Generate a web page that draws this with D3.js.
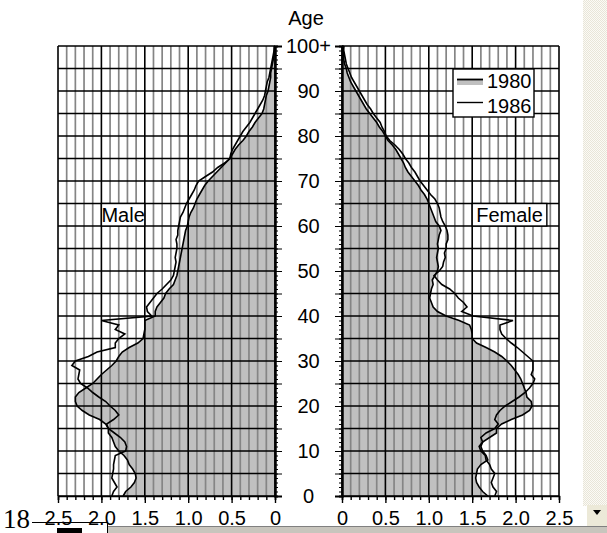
<!DOCTYPE html>
<html><head><meta charset="utf-8">
<script src="https://cdn.jsdelivr.net/npm/d3@7"></script>
<style>html,body{margin:0;padding:0;background:#fff;}svg{display:block;}</style>
</head><body>
<script>
// ---------- data ----------
const ages = d3.range(0, 101);
const ageTicks = [0,10,20,30,40,50,60,70,80,90,100];
const ageTickLabels = ["0","10","20","30","40","50","60","70","80","90","100+"];
const valueTicks = [0,0.5,1.0,1.5,2.0,2.5];
const valueTickLabels = ["0","0.5","1.0","1.5","2.0","2.5"];
const seriesNames = ["1980","1986"];
const sideLabels = ["Male","Female"];

const male1980 = [1.75,1.72,1.66,1.62,1.60,1.61,1.64,1.68,1.70,1.74,
1.80,1.84,1.86,1.88,1.92,1.92,1.95,2.02,2.14,2.22,
2.28,2.30,2.30,2.26,2.18,2.10,2.05,2.00,1.94,1.88,
1.83,1.80,1.76,1.68,1.58,1.52,1.51,1.50,1.50,1.50,
1.38,1.38,1.36,1.32,1.28,1.26,1.22,1.17,1.15,1.13,
1.12,1.11,1.10,1.09,1.08,1.07,1.06,1.05,1.04,1.03,
1.01,1.00,0.99,0.97,0.94,0.92,0.90,0.87,0.84,0.81,
0.77,0.72,0.67,0.62,0.57,0.52,0.49,0.46,0.42,0.37,
0.33,0.30,0.26,0.23,0.19,0.15,0.13,0.12,0.11,0.10,
0.08,0.07,0.06,0.05,0.05,0.04,0.03,0.02,0.01,0.01,0.00];

const male1986 = [1.88,1.86,1.82,1.85,1.88,1.87,1.86,1.86,1.85,1.84,
1.72,1.71,1.73,1.78,1.85,1.92,1.94,1.86,1.80,1.84,
1.90,1.95,2.03,2.10,2.16,2.24,2.27,2.26,2.25,2.34,
2.30,2.15,2.05,1.84,1.84,1.80,1.73,1.84,1.80,2.00,
1.42,1.47,1.48,1.44,1.40,1.36,1.30,1.25,1.20,1.17,
1.16,1.15,1.14,1.15,1.14,1.13,1.13,1.14,1.12,1.12,
1.11,1.10,1.09,1.06,1.04,1.02,0.99,0.96,0.93,0.91,
0.88,0.80,0.72,0.66,0.58,0.52,0.51,0.49,0.46,0.43,
0.40,0.37,0.33,0.29,0.26,0.23,0.20,0.17,0.14,0.12,
0.11,0.10,0.09,0.07,0.06,0.05,0.04,0.03,0.02,0.01,0.01];

const female1980 = [1.68,1.62,1.58,1.55,1.54,1.55,1.56,1.60,1.68,1.66,
1.62,1.60,1.62,1.70,1.78,1.78,1.84,1.95,2.08,2.16,
2.19,2.18,2.13,2.12,2.10,2.08,2.06,2.03,1.99,1.95,
1.90,1.84,1.76,1.66,1.55,1.50,1.50,1.49,1.47,1.35,
1.20,1.10,1.05,1.03,1.01,1.02,1.03,1.05,1.04,1.07,
1.10,1.11,1.10,1.09,1.10,1.11,1.10,1.11,1.12,1.14,
1.12,1.08,1.06,1.04,1.02,1.00,0.98,0.95,0.91,0.88,
0.84,0.80,0.76,0.73,0.71,0.68,0.65,0.62,0.58,0.53,
0.50,0.47,0.43,0.40,0.36,0.32,0.28,0.25,0.22,0.19,
0.16,0.13,0.10,0.08,0.06,0.05,0.03,0.02,0.02,0.01,0.02];

const female1986 = [1.76,1.78,1.74,1.72,1.74,1.76,1.72,1.70,1.66,1.65,
1.60,1.58,1.62,1.60,1.66,1.76,1.80,1.76,1.78,1.82,
1.88,1.96,2.04,2.11,2.16,2.20,2.22,2.18,2.20,2.20,
2.20,2.14,2.08,2.02,1.95,1.89,1.84,1.82,1.82,1.97,
1.51,1.38,1.44,1.40,1.34,1.30,1.24,1.15,1.10,1.06,
1.12,1.16,1.17,1.19,1.18,1.20,1.20,1.22,1.22,1.21,
1.19,1.16,1.14,1.13,1.12,1.10,1.07,1.02,0.98,0.94,
0.90,0.87,0.84,0.80,0.77,0.73,0.70,0.66,0.61,0.55,
0.51,0.49,0.46,0.44,0.40,0.36,0.33,0.29,0.26,0.23,
0.20,0.17,0.14,0.11,0.09,0.07,0.05,0.04,0.03,0.02,0.02];

// ---------- drawing ----------
const W = 607, H = 533;
const FONT = "'Liberation Sans', Arial, sans-serif";
const svg = d3.select("body").append("svg").attr("width", W).attr("height", H)
  .style("font-family", FONT);

const y = d3.scaleLinear().domain([0,100]).range([496,46]);
const xM = d3.scaleLinear().domain([0,2.5]).range([275,58]);
const xF = d3.scaleLinear().domain([0,2.5]).range([342,559]);

function panel(x, d80, d86, label, labelBox) {
  const g = svg.append("g");
  const pts80 = ages.map((a,i)=>[a, d80[i]]);
  const pts86 = ages.map((a,i)=>[a, d86[i]]);
  // 1980 fill
  g.append("path").datum(pts80)
    .attr("d", d3.area().x0(()=>x(0)).x1(d=>x(d[1])).y(d=>y(d[0])))
    .attr("fill", "#c0c0c0");
  // minor vertical grid
  const minor = d3.range(0, 26).map(i => i/10).filter(v => Math.abs(v*2 - Math.round(v*2)) > 1e-6);
  g.selectAll(".vmin").data(minor).join("line")
    .attr("x1", d=>x(d)).attr("x2", d=>x(d)).attr("y1", y(0)).attr("y2", y(100))
    .attr("stroke", "#858585").attr("stroke-width", 1.7);
  // horizontal grid every 5 years
  g.selectAll(".h").data(d3.range(0,101,5)).join("line")
    .attr("x1", x(0)).attr("x2", x(2.5)).attr("y1", d=>y(d)).attr("y2", d=>y(d))
    .attr("stroke", "#000").attr("stroke-width", 1.6);
  // major vertical grid
  g.selectAll(".vmaj").data(valueTicks).join("line")
    .attr("x1", d=>x(d)).attr("x2", d=>x(d)).attr("y1", y(0)).attr("y2", y(100))
    .attr("stroke", "#000").attr("stroke-width", 1.6);
  // side label box
  const bx0 = x(labelBox[0]), bx1 = x(labelBox[1]);
  const lx = Math.min(bx0,bx1), lw = Math.abs(bx1-bx0);
  g.append("rect").attr("x", lx).attr("y", y(65)).attr("width", lw).attr("height", y(60)-y(65))
    .attr("fill", "#fff").attr("stroke", "#000").attr("stroke-width", 1.4);
  g.append("text").attr("x", lx + lw/2).attr("y", y(62.5)).attr("dy", "0.36em")
    .attr("text-anchor", "middle").attr("font-size", 20).text(label);
  // lines
  const line = d3.line().x(d=>x(d[1])).y(d=>y(d[0]));
  g.append("path").datum(pts80).attr("d", line).attr("fill","none").attr("stroke","#000").attr("stroke-width",1.6);
  g.append("path").datum(pts86).attr("d", line).attr("fill","none").attr("stroke","#000").attr("stroke-width",1.6);
  // x axis: minor ticks
  const ax = g.append("g").attr("transform", `translate(0,${y(0)})`);
  ax.call(d3.axisBottom(x).tickValues(d3.range(0,26).map(i=>i/10)).tickSize(4).tickFormat(""));
  const ax2 = g.append("g").attr("transform", `translate(0,${y(0)})`);
  ax2.call(d3.axisBottom(x).tickValues(valueTicks).tickSize(7).tickPadding(8)
      .tickFormat((d,i)=>valueTickLabels[valueTicks.indexOf(d)]));
  [ax, ax2].forEach(a => {
    a.select(".domain").attr("stroke","#000").attr("stroke-width",1.4);
    a.selectAll(".tick line").attr("stroke","#000").attr("stroke-width",1.4);
  });
  ax2.select(".domain").remove();
  ax2.selectAll("text").attr("font-size", 20).attr("font-family", FONT).attr("fill","#000");
  return g;
}

panel(xM, male1980, male1986, sideLabels[0], [2.0, 1.5]);
panel(xF, female1980, female1986, sideLabels[1], [1.5, 2.36]);

// central age axis ticks
const yAxL = svg.append("g").attr("transform", `translate(${xM(0)},0)`)
  .call(d3.axisRight(y).tickValues(d3.range(0,101)).tickSize(3).tickFormat(""));
const yAxL2 = svg.append("g").attr("transform", `translate(${xM(0)},0)`)
  .call(d3.axisRight(y).tickValues(d3.range(0,101,5)).tickSize(7).tickFormat(""));
const yAxR = svg.append("g").attr("transform", `translate(${xF(0)},0)`)
  .call(d3.axisLeft(y).tickValues(d3.range(0,101)).tickSize(3).tickFormat(""));
const yAxR2 = svg.append("g").attr("transform", `translate(${xF(0)},0)`)
  .call(d3.axisLeft(y).tickValues(d3.range(0,101,5)).tickSize(7).tickFormat(""));
[yAxL,yAxL2,yAxR,yAxR2].forEach(a=>{
  a.select(".domain").attr("stroke","#000").attr("stroke-width",2);
  a.selectAll(".tick line").attr("stroke","#000").attr("stroke-width",1);
});

svg.append("g").selectAll("text").data(ageTicks).join("text")
  .attr("x", 308.5).attr("y", d=>y(d)).attr("dy","0.36em").attr("text-anchor","middle")
  .attr("font-size", 20).text((d,i)=>ageTickLabels[i]);
svg.append("text").attr("x", 306).attr("y", 25).attr("text-anchor","middle")
  .attr("font-size", 20).text("Age");

// legend
const lg = svg.append("g");
lg.append("rect").attr("x",453).attr("y",69).attr("width",81).attr("height",48)
  .attr("fill","#fff").attr("stroke","#000").attr("stroke-width",1.4);
lg.append("rect").attr("x",457).attr("y",79).attr("width",26).attr("height",6).attr("fill","#c0c0c0");
lg.append("line").attr("x1",457).attr("x2",483).attr("y1",79.5).attr("y2",79.5).attr("stroke","#000").attr("stroke-width",1.8);
lg.append("line").attr("x1",457).attr("x2",483).attr("y1",102.5).attr("y2",102.5).attr("stroke","#000").attr("stroke-width",1.4);
lg.selectAll("text").data(seriesNames).join("text")
  .attr("x",487).attr("y",(d,i)=>88+i*24.5).attr("font-size",20).text(d=>d);

// window chrome around the picture
const defs = svg.append("defs");
const pat = defs.append("pattern").attr("id","dither").attr("width",2).attr("height",2).attr("patternUnits","userSpaceOnUse");
pat.append("rect").attr("width",2).attr("height",2).attr("fill","#fbfaf6");
pat.append("rect").attr("width",1).attr("height",1).attr("fill","#e8e5d8");
pat.append("rect").attr("x",1).attr("y",1).attr("width",1).attr("height",1).attr("fill","#e8e5d8");
svg.append("rect").attr("x",583).attr("y",0).attr("width",24).attr("height",506).attr("fill","url(#dither)");
svg.append("rect").attr("x",587).attr("y",505).attr("width",20).attr("height",21).attr("fill","#ece9d8");
svg.append("path").attr("d","M593,510 L601,510 L597,515 Z").attr("fill","#000");
svg.append("rect").attr("x",108).attr("y",526).attr("width",499).attr("height",7).attr("fill","#c8c5bd");
svg.append("line").attr("x1",108).attr("x2",607).attr("y1",526.5).attr("y2",526.5).attr("stroke","#808080");
svg.append("line").attr("x1",32).attr("x2",108).attr("y1",522.5).attr("y2",522.5).attr("stroke","#000").attr("stroke-width",1.2);
svg.append("line").attr("x1",107.5).attr("x2",107.5).attr("y1",522).attr("y2",533).attr("stroke","#000");
svg.append("rect").attr("x",57).attr("y",528).attr("width",25).attr("height",5).attr("fill","#000");
svg.append("text").attr("x",3).attr("y",528).attr("font-family","'Liberation Serif', 'Times New Roman', serif")
  .attr("font-size",27).text("18");
</script>
</body></html>
